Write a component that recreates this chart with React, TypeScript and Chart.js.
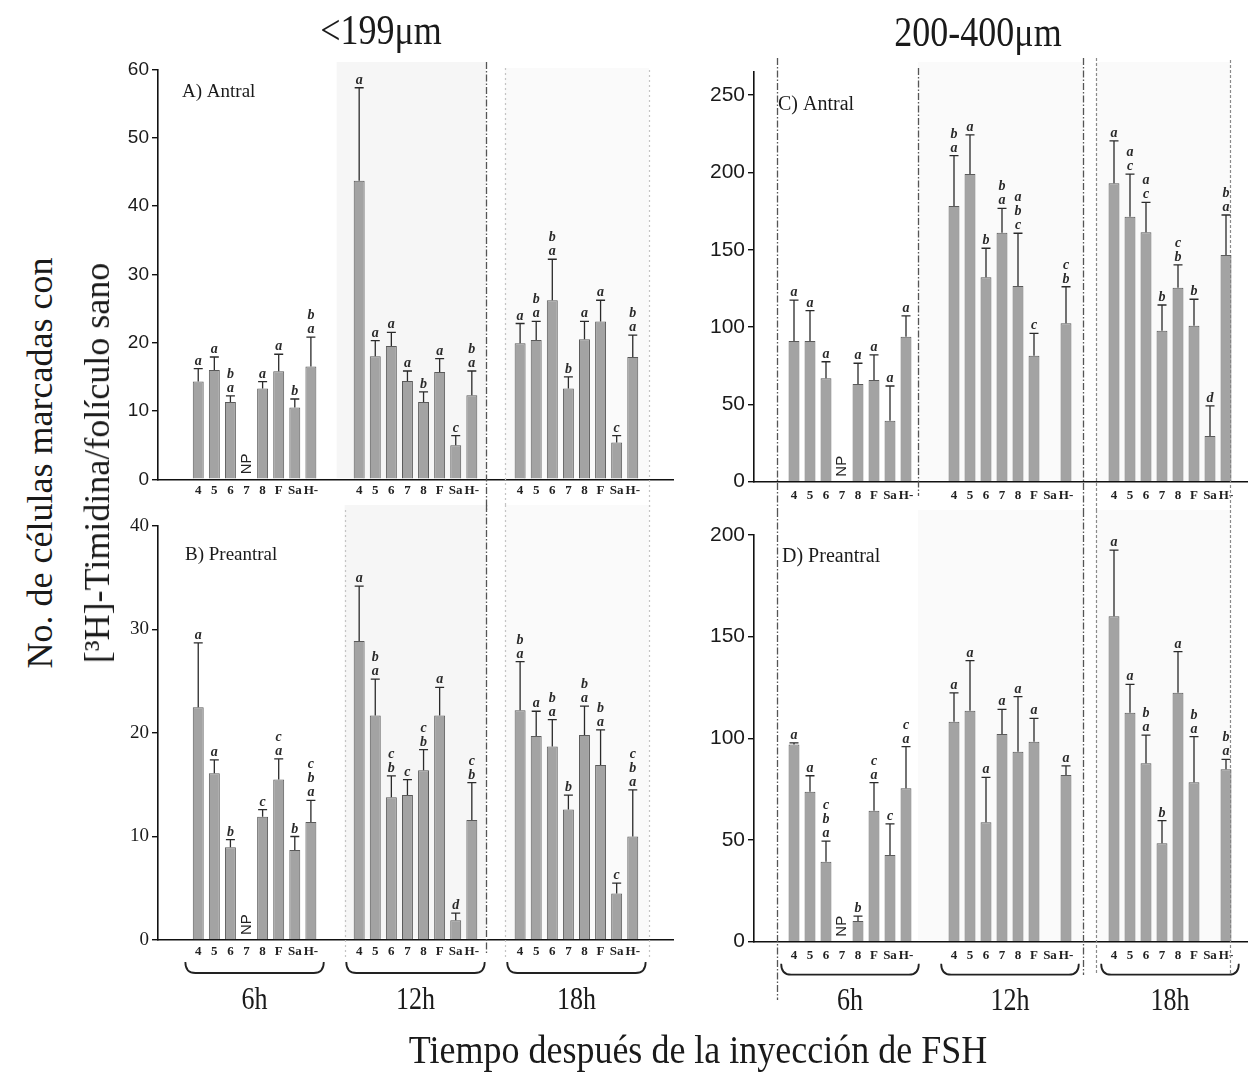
import React, { useEffect, useRef } from 'react';
import { Chart, registerables } from 'chart.js';

Chart.register(...registerables);

// ---------- data ----------
const conditions = ['4', '5', '6', '7', '8', 'F', 'Sa', 'H-'];
const times = ['6h', '12h', '18h'];
const notProcessed = [3]; // condition "7" at 6h: NP

// A) Antral, <199 µm
const antralSmallMean = [14.3, 16.0, 11.3, null, 13.3, 15.8, 10.5, 16.5, 43.7, 18.0, 19.5, 14.4, 11.3, 15.7, 5.0, 12.3, 19.9, 20.4, 26.2, 13.3, 20.5, 23.1, 5.4, 17.9];
const antralSmallSE = [1.9, 1.9, 0.9, null, 1.0, 2.5, 1.25, 4.3, 13.6, 2.3, 2.0, 1.45, 1.5, 1.95, 1.4, 3.55, 2.9, 2.7, 6.0, 1.7, 2.6, 3.1, 1.0, 3.2];
const antralSmallLetters = ['a', 'a', 'b/a', '', 'a', 'a', 'b', 'b/a', 'a', 'a', 'a', 'a', 'b', 'a', 'c', 'b/a', 'a', 'b/a', 'b/a', 'b', 'a', 'a', 'c', 'b/a'];

// B) Preantral, <199 µm
const preantralSmallMean = [22.5, 16.1, 8.95, null, 11.9, 15.5, 8.7, 11.4, 28.9, 21.7, 13.8, 14.0, 16.4, 21.7, 1.9, 11.6, 22.2, 19.7, 18.7, 12.6, 19.8, 16.9, 4.5, 10.0];
const preantralSmallSE = [6.2, 1.3, 0.75, null, 0.7, 2.0, 1.3, 2.1, 5.3, 3.5, 2.05, 1.5, 2.0, 2.7, 0.7, 3.6, 4.7, 2.4, 2.6, 1.4, 2.8, 3.4, 1.0, 4.5];
const preantralSmallLetters = ['a', 'a', 'b', '', 'c', 'c/a', 'b', 'c/b/a', 'a', 'b/a', 'c/b', 'c', 'c/b', 'a', 'd', 'c/b', 'b/a', 'a', 'b/a', 'b', 'b/a', 'b/a', 'c', 'c/b/a'];

// C) Antral, 200-400 µm
const antralLargeMean = [91, 91, 66.9, null, 63.2, 65.8, 39.5, 93.8, 178.3, 199, 132.2, 161, 126.6, 81.5, null, 102.5, 193, 171.4, 161.3, 97.7, 125.5, 100.9, 29.6, 146.6];
const antralLargeSE = [26.5, 19.6, 10.7, null, 13.4, 16.2, 22.4, 13.4, 32.6, 25.3, 18.8, 15.8, 34.1, 14.5, null, 23.6, 27.4, 27.6, 19.4, 16.6, 14.7, 17.1, 19.4, 25.9];
const antralLargeLetters = ['a', 'a', 'a', '', 'a', 'a', 'a', 'a', 'b/a', 'a', 'b', 'b/a', 'a/b/c', 'c', '', 'c/b', 'a', 'a/c', 'a/c', 'b', 'c/b', 'b', 'd', 'b/a'];

// D) Preantral, 200-400 µm
const preantralLargeMean = [97, 73.7, 39.3, null, 10.2, 64.4, 42.6, 75.4, 108.2, 113.6, 58.7, 102.1, 93.4, 98.3, null, 82, 160.1, 112.6, 87.7, 48.4, 122.4, 78.4, null, 84.8];
const preantralLargeSE = [0.8, 7.9, 10.2, null, 2.4, 13.8, 15.3, 20.5, 14.2, 24.6, 22.1, 12.1, 27.1, 11.5, null, 4.5, 32.5, 13.9, 13.9, 11.1, 20.2, 22.4, null, 4.9];
const preantralLargeLetters = ['a', 'a', 'c/b/a', '', 'b', 'c/a', 'c', 'c/a', 'a', 'a', 'a', 'a', 'a', 'a', '', 'a', 'a', 'a', 'b/a', 'b', 'a', 'b/a', '', 'b/a'];

// ---------- helpers ----------
const LEAD = 2;
const GAP = 2;
function slotOf(k: number) {
  return LEAD + Math.floor(k / conditions.length) * (conditions.length + GAP) + (k % conditions.length);
}
function buildLabels(trail: number) {
  const out: string[] = [];
  for (let i = 0; i < LEAD; i++) out.push('');
  times.forEach((_, g) => {
    out.push(...conditions);
    if (g < times.length - 1) for (let i = 0; i < GAP; i++) out.push('');
  });
  for (let i = 0; i < trail; i++) out.push('');
  return out;
}
function spread(values: (number | null)[], n: number) {
  const arr: (number | null)[] = new Array(n).fill(null);
  values.forEach((v, k) => { arr[slotOf(k)] = v; });
  return arr;
}

const DARK = { color: '#555', dash: [7, 2, 1.5, 2], width: 1.3 };
const LIGHT = { color: '#c4c4c4', dash: [2, 3], width: 1.2 };
const MID = { color: '#8a8a8a', dash: [3, 2], width: 1.2 };

type Sep = { at: number; y0: number; y1: number; style: { color: string; dash: number[]; width: number } };
type Shade = { from: number; to: number; y0: number; y1: number; color: string };

type PanelCfg = {
  id: string;
  means: (number | null)[];
  errs: (number | null)[];
  letters: string[];
  max: number;
  step: number;
  trail: number;
  left: number; top: number; width: number; height: number;
  yWidth: number; padTop: number; padBottom: number; padRight: number; xHeight: number;
  tickFont: { family: string; size: number };
  xPad: number;
  title: string; titleX: number; titleY: number; titleSize: number;
  seps: Sep[];
  shades: Shade[];
  brackets: boolean;
};

const serif = '"Liberation Serif", "Times New Roman", serif';
const sans = '"Liberation Sans", Arial, sans-serif';

const SHADE1 = '#f6f6f6';
const SHADE2 = '#fafafa';

const panels: PanelCfg[] = [
  {
    id: 'A', means: antralSmallMean, errs: antralSmallSE, letters: antralSmallLetters,
    max: 60, step: 10, trail: 2,
    left: 100, top: 50, width: 580, height: 460,
    yWidth: 58, padTop: 19.3, padBottom: 0, padRight: 7, xHeight: 30.7,
    tickFont: { family: '"Liberation Sans Narrow", ' + sans, size: 19 }, xPad: 4,
    title: 'A) Antral', titleX: 182, titleY: 92, titleSize: 19,
    seps: [
      { at: 19.87, y0: 62, y1: 510, style: DARK },
      { at: 21.05, y0: 68, y1: 510, style: LIGHT },
      { at: 30.0, y0: 70, y1: 510, style: LIGHT },
    ],
    shades: [
      { from: 10.6, to: 19.87, y0: 62, y1: 478, color: SHADE1 },
      { from: 21.05, to: 30.0, y0: 68, y1: 478, color: SHADE2 },
    ],
    brackets: false,
  },
  {
    id: 'B', means: preantralSmallMean, errs: preantralSmallSE, letters: preantralSmallLetters,
    max: 40, step: 10, trail: 2,
    left: 100, top: 505, width: 580, height: 520,
    yWidth: 58, padTop: 21, padBottom: 57, padRight: 7, xHeight: 28,
    tickFont: { family: serif, size: 19 }, xPad: 4,
    title: 'B) Preantral', titleX: 185, titleY: 555, titleSize: 19,
    seps: [
      { at: 11.1, y0: 510, y1: 960, style: LIGHT },
      { at: 19.87, y0: 505, y1: 955, style: DARK },
      { at: 21.05, y0: 505, y1: 960, style: LIGHT },
      { at: 30.0, y0: 505, y1: 960, style: LIGHT },
    ],
    shades: [
      { from: 11.1, to: 19.87, y0: 505, y1: 938, color: SHADE1 },
      { from: 21.05, to: 30.0, y0: 505, y1: 938, color: SHADE2 },
    ],
    brackets: true,
  },
  {
    id: 'C', means: antralLargeMean, errs: antralLargeSE, letters: antralLargeLetters,
    max: 265, step: 50, trail: 1,
    left: 690, top: 55, width: 564, height: 455,
    yWidth: 64, padTop: 17, padBottom: 0, padRight: 4, xHeight: 28.3,
    tickFont: { family: sans, size: 21 }, xPad: 6,
    title: 'C) Antral', titleX: 778, titleY: 105, titleSize: 20,
    seps: [
      { at: 0.94, y0: 58, y1: 510, style: DARK },
      { at: 9.75, y0: 68, y1: 496, style: DARK },
      { at: 20.06, y0: 58, y1: 510, style: DARK },
      { at: 20.875, y0: 58, y1: 510, style: MID },
      { at: 29.25, y0: 60, y1: 510, style: MID },
    ],
    shades: [
      { from: 9.75, to: 20.06, y0: 62, y1: 480, color: SHADE2 },
      { from: 20.875, to: 29.25, y0: 62, y1: 480, color: SHADE2 },
    ],
    brackets: false,
  },
  {
    id: 'D', means: preantralLargeMean, errs: preantralLargeSE, letters: preantralLargeLetters,
    max: 200, step: 50, trail: 1,
    left: 690, top: 510, width: 564, height: 520,
    yWidth: 64, padTop: 25, padBottom: 58.3, padRight: 4, xHeight: 30,
    tickFont: { family: sans, size: 21 }, xPad: 6,
    title: 'D) Preantral', titleX: 782, titleY: 557, titleSize: 20,
    seps: [
      { at: 0.94, y0: 510, y1: 1000, style: DARK },
      { at: 20.06, y0: 510, y1: 975, style: DARK },
      { at: 20.875, y0: 510, y1: 975, style: MID },
      { at: 29.25, y0: 510, y1: 975, style: MID },
    ],
    shades: [
      { from: 9.75, to: 20.06, y0: 510, y1: 940, color: SHADE2 },
      { from: 20.875, to: 29.25, y0: 510, y1: 940, color: SHADE2 },
    ],
    brackets: true,
  },
];

function makePlugin(cfg: PanelCfg) {
  const slotPx = (chart: any) => {
    const x = chart.scales.x;
    const x0 = x.getPixelForValue(0);
    const sw = x.getPixelForValue(1) - x0;
    return (idx: number) => x0 + idx * sw;
  };
  return {
    id: 'annot' + cfg.id,
    beforeDraw(chart: any) {
      const ctx = chart.ctx;
      const px = slotPx(chart);
      ctx.save();
      cfg.shades.forEach((s) => {
        ctx.fillStyle = s.color;
        const y0 = s.y0 - cfg.top;
        const y1 = s.y1 - cfg.top;
        ctx.fillRect(px(s.from), y0, px(s.to) - px(s.from), y1 - y0);
      });
      ctx.restore();
    },
    beforeDatasetsDraw(chart: any) {
      const ctx = chart.ctx;
      const px = slotPx(chart);
      ctx.save();
      cfg.seps.forEach((s) => {
        ctx.beginPath();
        ctx.setLineDash(s.style.dash);
        ctx.strokeStyle = s.style.color;
        ctx.lineWidth = s.style.width;
        const xx = Math.round(px(s.at)) + 0.5;
        ctx.moveTo(xx, s.y0 - cfg.top);
        ctx.lineTo(xx, s.y1 - cfg.top);
        ctx.stroke();
      });
      ctx.restore();
    },
    afterDatasetsDraw(chart: any) {
      const ctx = chart.ctx;
      const y = chart.scales.y;
      const x = chart.scales.x;
      const area = chart.chartArea;
      const px = slotPx(chart);
      ctx.save();
      // error bars + letters
      cfg.means.forEach((m, k) => {
        const slot = slotOf(k);
        const cx = x.getPixelForValue(slot);
        let capY = m == null ? area.bottom : y.getPixelForValue(m);
        const e = cfg.errs[k];
        if (m != null && e != null) {
          const topY = y.getPixelForValue(m + e);
          ctx.strokeStyle = '#2a2a2a';
          ctx.lineWidth = 1.3;
          ctx.beginPath();
          ctx.moveTo(cx, y.getPixelForValue(m));
          ctx.lineTo(cx, topY);
          ctx.moveTo(cx - 4.5, topY);
          ctx.lineTo(cx + 4.5, topY);
          ctx.stroke();
          capY = topY;
        }
        const lt = cfg.letters[k];
        if (lt) {
          const parts = lt.split('/');
          ctx.fillStyle = '#2a2a2a';
          ctx.font = 'italic bold 14px ' + serif;
          ctx.textAlign = 'center';
          ctx.textBaseline = 'alphabetic';
          const n = parts.length;
          parts.forEach((p, j) => {
            ctx.fillText(p, cx, capY - 4 - (n - 1 - j) * 14);
          });
        }
      });
      // NP labels
      times.forEach((_, g) => {
        if (g !== 0) return;
        notProcessed.forEach((c) => {
          const cx = x.getPixelForValue(slotOf(g * conditions.length + c));
          ctx.save();
          ctx.translate(cx, area.bottom - 5);
          ctx.rotate(-Math.PI / 2);
          ctx.fillStyle = '#222';
          ctx.font = '15px ' + sans;
          ctx.textAlign = 'left';
          ctx.textBaseline = 'middle';
          ctx.fillText('NP', 0, 0);
          ctx.restore();
        });
      });
      // panel title
      ctx.fillStyle = '#1a1a1a';
      ctx.font = cfg.titleSize + 'px ' + serif;
      ctx.textAlign = 'left';
      ctx.textBaseline = 'middle';
      ctx.fillText(cfg.title, cfg.titleX - cfg.left, cfg.titleY - cfg.top);
      // brackets and time labels
      if (cfg.brackets) {
        times.forEach((t, g) => {
          const first = slotOf(g * conditions.length);
          const last = slotOf(g * conditions.length + conditions.length - 1);
          const x1 = px(first - 0.8);
          const x2 = px(last + 0.8);
          const yTop = area.bottom + 22;
          const yBot = yTop + 11;
          ctx.strokeStyle = '#222';
          ctx.lineWidth = 1.8;
          ctx.setLineDash([]);
          ctx.beginPath();
          ctx.moveTo(x1, yTop);
          ctx.quadraticCurveTo(x1, yBot, x1 + 10, yBot);
          ctx.lineTo(x2 - 10, yBot);
          ctx.quadraticCurveTo(x2, yBot, x2, yTop);
          ctx.stroke();
          const mid = (x.getPixelForValue(first) + x.getPixelForValue(last)) / 2;
          ctx.save();
          ctx.translate(mid, area.bottom + 60);
          ctx.scale(1, 1.25);
          ctx.fillStyle = '#1a1a1a';
          ctx.font = '26px ' + serif;
          ctx.textAlign = 'center';
          ctx.textBaseline = 'middle';
          ctx.fillText(t, 0, 0);
          ctx.restore();
        });
      }
      ctx.restore();
    },
  };
}

function Panel({ cfg }: { cfg: PanelCfg }) {
  const ref = useRef<HTMLCanvasElement>(null);
  useEffect(() => {
    if (!ref.current) return;
    const labels = buildLabels(cfg.trail);
    const n = labels.length;
    const chart = new Chart(ref.current, {
      type: 'bar',
      data: {
        labels,
        datasets: [
          {
            data: spread(cfg.means, n) as any,
            backgroundColor: '#a3a3a3',
            borderColor: '#5a5a5a',
            borderWidth: 1,
            barPercentage: 0.68,
            categoryPercentage: 1,
          },
        ],
      },
      options: {
        responsive: false,
        devicePixelRatio: 1,
        animation: false,
        events: [],
        layout: { padding: { top: cfg.padTop, bottom: cfg.padBottom, left: 0, right: cfg.padRight } },
        plugins: { legend: { display: false }, tooltip: { enabled: false } },
        scales: {
          x: {
            type: 'category',
            offset: true,
            grid: { display: false, drawTicks: false },
            border: { display: true, color: '#111', width: 1.6 },
            ticks: {
              autoSkip: false,
              maxRotation: 0,
              minRotation: 0,
              padding: cfg.xPad,
              color: '#222',
              font: { family: serif, size: 13, weight: 'bold' },
            },
            afterFit: (s: any) => { s.height = cfg.xHeight; },
          },
          y: {
            min: 0,
            max: cfg.max,
            ticks: {
              stepSize: cfg.step,
              includeBounds: false,
              padding: 3,
              color: '#1a1a1a',
              font: cfg.tickFont,
            },
            grid: { drawOnChartArea: false, drawTicks: true, tickLength: 6, color: '#111', lineWidth: 1.4 },
            border: { display: true, color: '#111', width: 1.6 },
            afterFit: (s: any) => { s.width = cfg.yWidth; },
          },
        },
      },
      plugins: [makePlugin(cfg)],
    } as any);
    return () => chart.destroy();
  }, [cfg]);
  return (
    <canvas
      ref={ref}
      width={cfg.width}
      height={cfg.height}
      style={{ position: 'absolute', left: cfg.left - 8, top: cfg.top - 8, width: cfg.width, height: cfg.height }}
    />
  );
}

function Txt({ x, y, size, children, rotate, sy }: { x: number; y: number; size: number; children: any; rotate?: boolean; sy?: number }) {
  return (
    <div
      style={{
        position: 'absolute',
        left: x - 8,
        top: y - 8,
        transform: `translate(-50%, -50%)${rotate ? ' rotate(-90deg)' : ''}${sy ? ` scaleY(${sy})` : ''}`,
        fontFamily: serif,
        fontSize: size,
        lineHeight: 1,
        whiteSpace: 'nowrap',
        color: '#1a1a1a',
      }}
    >
      {children}
    </div>
  );
}

export default function App() {
  return (
    <div style={{ position: 'relative', width: 1240, height: 1068, background: '#fff', overflow: 'hidden' }}>
      {panels.map((p) => (
        <Panel key={p.id} cfg={p} />
      ))}
      <Txt x={381} y={30} size={36} sy={1.2}>{'<199μm'}</Txt>
      <Txt x={978} y={32} size={36} sy={1.2}>{'200-400μm'}</Txt>
      <Txt x={40} y={463} size={36} rotate>{'No. de células marcadas con'}</Txt>
      <Txt x={97} y={463} size={36} rotate>{'[³H]-Timidina/folículo sano'}</Txt>
      <Txt x={698} y={1050} size={36} sy={1.1}>{'Tiempo después de la inyección de FSH'}</Txt>
    </div>
  );
}
